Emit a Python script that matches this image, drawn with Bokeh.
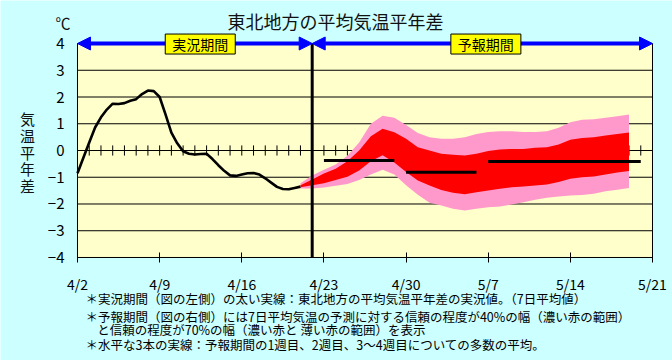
import numpy as np
from bokeh.plotting import figure
from bokeh.models import Range1d, Label, Arrow, NormalHead, FixedTicker, LinearAxis
from bokeh.embed import file_html
from bokeh.resources import INLINE

# ---------------- data ----------------
x_tick_days = [0, 7, 14, 21, 28, 35, 42, 49]
x_tick_labels = ["4/2", "4/9", "4/16", "4/23", "4/30", "5/7", "5/14", "5/21"]
y_ticks = [-4, -3, -2, -1, 0, 1, 2, 3, 4]
y_tick_labels = ["−4", "−3", "−2", "−1", "0", "1", "2", "3", "4"]
grid_levels = [-3, -2, -1, 0, 1, 2, 3]

# observed 7-day mean anomaly (days since 4/2, half-day steps)
obs_days = list(np.arange(0, 19.5, 0.5))
obs_vals = [-0.85, -0.27, 0.30, 0.86, 1.24, 1.53, 1.75, 1.74, 1.77, 1.86,
            1.92, 2.11, 2.24, 2.22, 2.00, 1.35, 0.67, 0.27, -0.03, -0.12,
            -0.15, -0.13, -0.12, -0.32, -0.55, -0.76, -0.93, -0.95, -0.90, -0.85,
            -0.84, -0.90, -1.04, -1.20, -1.36, -1.44, -1.45, -1.40, -1.35]

# forecast bands (days 19 .. 47)
band_days = list(range(19, 48))
pink_up = [-1.22, -0.93, -0.72, -0.52, -0.20, 0.30, 1.00, 1.30, 1.22, 0.95,
           0.65, 0.50, 0.44, 0.44, 0.50, 0.62, 0.69, 0.72, 0.72, 0.69,
           0.69, 0.72, 0.85, 1.06, 1.15, 1.17, 1.22, 1.28, 1.35]
red_up = [-1.30, -1.08, -0.86, -0.68, -0.40, 0.00, 0.53, 0.81, 0.68, 0.44,
          0.12, 0.00, -0.12, -0.16, -0.19, -0.12, -0.02, 0.04, 0.06, 0.06,
          0.10, 0.12, 0.22, 0.40, 0.47, 0.50, 0.56, 0.62, 0.67]
red_lo = [-1.37, -1.30, -1.22, -1.10, -0.98, -0.75, -0.40, -0.18, -0.45, -0.80,
          -1.12, -1.31, -1.48, -1.58, -1.64, -1.56, -1.50, -1.43, -1.37, -1.35,
          -1.31, -1.27, -1.18, -1.06, -1.00, -0.97, -0.90, -0.82, -0.77]
pink_lo = [-1.42, -1.42, -1.38, -1.32, -1.25, -1.10, -0.90, -0.72, -0.90, -1.30,
           -1.65, -1.95, -2.06, -2.18, -2.24, -2.18, -2.12, -2.09, -2.02, -1.93,
           -1.84, -1.77, -1.72, -1.68, -1.66, -1.62, -1.52, -1.47, -1.40]

# weekly ensemble means
week_start = [21, 28, 35]
week_end = [27, 34, 48]
week_mean = [-0.37, -0.81, -0.41]

forecast_start = 20
day_ticks = list(range(1, 49))

title_text = "東北地方の平均気温平年差"
unit_text = "℃"
ylabel_text = "気\n温\n平\n年\n差"
period_labels = ["実況期間", "予報期間"]
notes = [
    "＊実況期間（図の左側）の太い実線：東北地方の平均気温平年差の実況値。（7日平均値）",
    "＊予報期間（図の右側）には7日平均気温の予測に対する信頼の程度が40%の幅（濃い赤の範囲）",
    "と信頼の程度が70%の幅（濃い赤と 薄い赤の範囲）を表示",
    "＊水平な3本の実線：予報期間の1週目、2週目、3～4週目についての多数の平均。",
]

FONT = "Noto Sans CJK JP"
BG = "#ccffff"
X0, X1, Y0, Y1 = 0, 49, -4, 4

# the frame fills the canvas; chart box [0,49]x[-4,4] sits at px (77..652, 43..257)
p = figure(width=672, height=360,
           x_range=Range1d(-6.5617, 50.7043), y_range=Range1d(-7.8505, 5.6075),
           x_axis_location=None, y_axis_location=None,
           output_backend="svg", toolbar_location=None, min_border=0,
           background_fill_color=BG, border_fill_color=BG, outline_line_color=None)
p.xgrid.visible = False
p.ygrid.visible = False

# plot area
p.quad(left=[X0], right=[X1], bottom=[Y0], top=[Y1], fill_color="#ffffcc",
       line_color="black", line_width=1)

# grid lines
p.segment(x0=[X0] * len(grid_levels), y0=grid_levels, x1=[X1] * len(grid_levels), y1=grid_levels,
          line_color="black", line_width=1)

# small day ticks on zero line
p.segment(x0=day_ticks, y0=[-0.19] * len(day_ticks), x1=day_ticks, y1=[0.19] * len(day_ticks),
          line_color="black", line_width=1)

# bands
p.varea(x=band_days, y1=pink_lo, y2=pink_up, fill_color="#ff99cc")
p.varea(x=band_days, y1=red_lo, y2=red_up, fill_color="#ff0000")

# observed
p.line(obs_days, obs_vals, line_color="black", line_width=2.6)

# weekly means
p.segment(x0=week_start, y0=week_mean, x1=week_end, y1=week_mean, line_color="black", line_width=3)

# forecast start line
p.segment(x0=[forecast_start], y0=[Y0], x1=[forecast_start], y1=[Y1], line_color="black", line_width=3)

# axes placed at fixed data locations
xaxis = LinearAxis(fixed_location=Y0, bounds=(X0, X1), ticker=FixedTicker(ticks=x_tick_days))
xaxis.major_label_overrides = {d: l for d, l in zip(x_tick_days, x_tick_labels)}
xaxis.major_tick_in = 5
xaxis.major_tick_out = 5
xaxis.minor_tick_line_color = None
xaxis.major_label_standoff = 12
xaxis.major_label_text_font = FONT
xaxis.major_label_text_font_size = "14px"
xaxis.major_label_text_color = "black"
xaxis.axis_line_color = "black"
xaxis.major_tick_line_color = "black"
p.add_layout(xaxis, "below")

yaxis = LinearAxis(fixed_location=X0, bounds=(Y0, Y1), ticker=FixedTicker(ticks=y_ticks))
yaxis.major_label_overrides = {t: l for t, l in zip(y_ticks, y_tick_labels)}
yaxis.major_tick_in = 0
yaxis.major_tick_out = 0
yaxis.minor_tick_line_color = None
yaxis.major_label_standoff = 13
yaxis.major_label_text_font = FONT
yaxis.major_label_text_font_size = "15px"
yaxis.major_label_text_color = "black"
yaxis.axis_line_color = "black"
p.add_layout(yaxis, "left")

# period arrows
for xs, xe in [(X0, forecast_start), (forecast_start, X1)]:
    p.add_layout(Arrow(start=NormalHead(size=13, fill_color="#0000ff", line_color="#0000ff"),
                       end=NormalHead(size=13, fill_color="#0000ff", line_color="#0000ff"),
                       x_start=xs, y_start=Y1, x_end=xe, y_end=Y1,
                       line_color="#0000ff", line_width=4))

for cx, txt in zip([10.46, 34.8], period_labels):
    p.add_layout(Label(x=cx, y=Y1 - 0.02, text=txt, text_align="center", text_baseline="middle",
                       text_font=FONT, text_font_size="14px", text_color="black",
                       background_fill_color="#ffff00", border_line_color="black",
                       border_line_width=1, padding=[7, 0]))

# title, unit, y label
p.add_layout(Label(x=21.99, y=4.84, text=title_text, text_align="center", text_baseline="middle",
                   text_font=FONT, text_font_size="18px", text_color="#111111"))
p.add_layout(Label(x=-1.24, y=4.80, text=unit_text, text_align="center", text_baseline="middle",
                   text_font=FONT, text_font_size="15px", text_color="#111111"))
p.add_layout(Label(x=-4.26, y=-0.06, text=ylabel_text, text_align="center", text_baseline="middle",
                   text_font=FONT, text_font_size="15px", text_color="#111111",
                   text_line_height=0.8))

# footnotes
note_pos = [(0.68, -5.54), (0.68, -6.21), (1.68, -6.70), (0.68, -7.25)]
for (nx, ny), txt in zip(note_pos, notes):
    p.add_layout(Label(x=nx, y=ny, text=txt, text_align="left", text_baseline="middle",
                       text_font=FONT, text_font_size="12.5px", text_color="black"))

open("out.html", "w").write(file_html(p, INLINE))
